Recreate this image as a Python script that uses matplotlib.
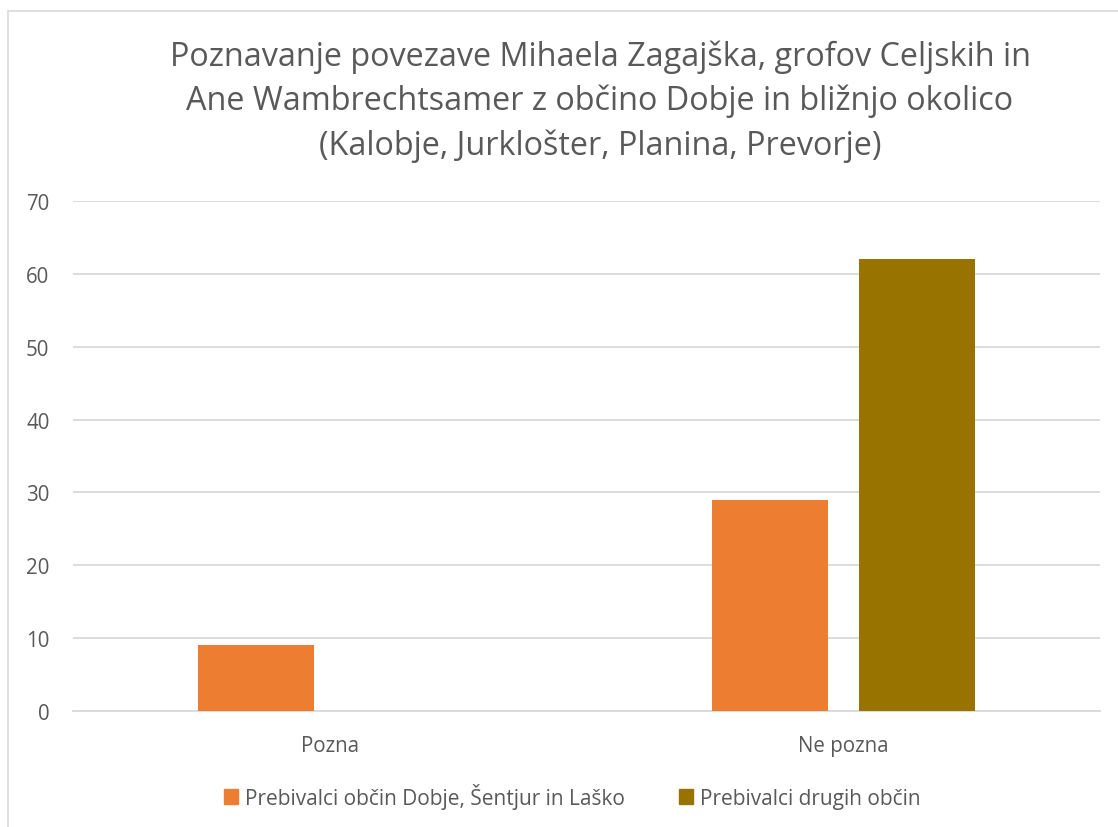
import numpy as np
import matplotlib
matplotlib.use('Agg')
import matplotlib.pyplot as plt
from matplotlib.patches import Rectangle, Patch

plt.rcParams['font.family'] = ['Open Sans', 'DejaVu Sans']

categories = ['Pozna', 'Ne pozna']
series_names = ['Prebivalci občin Dobje, Šentjur in Laško', 'Prebivalci drugih občin']
local_vals = [9, 29]
other_vals = [0, 62]
yticks = [0, 10, 20, 30, 40, 50, 60, 70]
title = ('Poznavanje povezave Mihaela Zagajška, grofov Celjskih in\n'
         'Ane Wambrechtsamer z občino Dobje in bližnjo okolico\n'
         '(Kalobje, Jurklošter, Planina, Prevorje)')

c_orange = '#ED7D31'
c_brown = '#997300'
txt = '#595959'
grid = '#D9D9D9'

W, H = 1118, 828
fig = plt.figure(figsize=(W / 100, H / 100), dpi=100)
ax = fig.add_axes([73 / W, 1 - 712 / H, (1100 - 73) / W, (712 - 202) / H])

# chart border (cropped on right and bottom)
fig.patches.append(Rectangle((8 / W, -0.1), 1.2, 1 - 12 / H + 0.1,
                             transform=fig.transFigure, fill=False,
                             edgecolor=grid, lw=1.2))

x = np.arange(len(categories))
bw = 0.226
off = 0.143
ax.bar(x - off, local_vals, bw, color=c_orange, zorder=3)
ax.bar(x + off, other_vals, bw, color=c_brown, zorder=3)

ax.set_xlim(-0.5, 1.5)
ax.set_ylim(0, 70)
ax.set_yticks(yticks)
ax.set_xticks(x)
ax.set_xticklabels(categories)
ax.yaxis.grid(True, color=grid, lw=1.3, zorder=0)
for s in ['top', 'right', 'left']:
    ax.spines[s].set_visible(False)
ax.spines['bottom'].set_color(grid)
ax.spines['bottom'].set_linewidth(1.3)
ax.tick_params(axis='both', length=0, labelsize=14.8, colors=txt)
ax.tick_params(axis='x', pad=17.5)
ax.tick_params(axis='y', pad=17)

fig.text(600 / W, 1 - 101.5 / H, title, ha='center', va='center',
         fontsize=23.3, color=txt, linespacing=1.44)

handles = [Patch(color=c_orange), Patch(color=c_brown)]
fig.legend(handles, series_names, loc='center', bbox_to_anchor=(572 / W, 1 - 797 / H),
           ncol=2, frameon=False, fontsize=15, labelcolor=txt,
           handlelength=0.7, handleheight=0.7, handletextpad=0.3, columnspacing=2.6)

fig.savefig('out.png', dpi=100, facecolor='white')
